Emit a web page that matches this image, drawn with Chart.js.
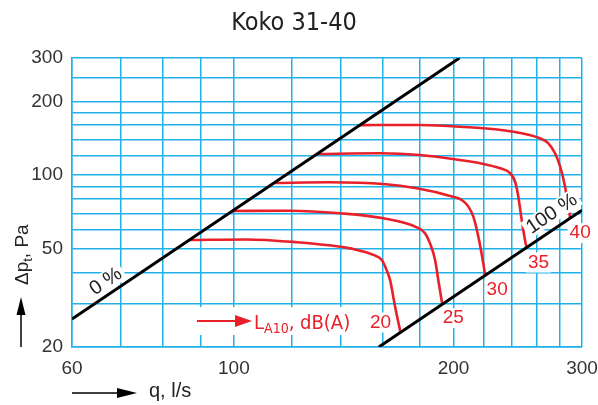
<!DOCTYPE html>
<html>
<head>
<meta charset="utf-8">
<script src="https://cdn.jsdelivr.net/npm/chart.js@4/dist/chart.umd.min.js"></script>
<style>
  html, body { margin: 0; padding: 0; background: #fff; }
  canvas { display: block; }
</style>
</head>
<body>
<canvas id="chart" width="598" height="405"></canvas>
<script>
// --- axis ticks (grid lines) and the ones that carry a label ---
const qTicks = [60, 70, 80, 90, 100, 120, 140, 160, 180, 200, 220, 240, 260, 280, 300];
const qLabels = [60, 100, 200, 300];
const pTicks = [20, 30, 40, 50, 60, 70, 80, 90, 100, 120, 140, 160, 180, 200, 250, 300];
const pLabels = [20, 50, 100, 200, 300];

// damper position limits (0 % and 100 %)
const zeroQ = [60, 203.8];
const zeroP = [26, 300];
const fullQ = [158, 300];
const fullP = [20, 72];

// sound level curves L_A10, dB(A)
const levels = ['20', '25', '30', '35', '40'];
const q20 = [87, 104, 122, 140, 144.3, 155.3, 159.5, 161.9, 163.7, 166.3, 169.2];
const p20 = [54.5, 54.8, 53.4, 51.2, 50.4, 47.4, 45.2, 41.2, 37.5, 29.2, 22.9];
const q25 = [99.5, 119.4, 139.8, 160.3, 178.1, 182.8, 185.7, 188.7, 190.6, 193];
const p25 = [71.5, 71.7, 70, 66.8, 61.4, 58.1, 52.8, 45.2, 37.5, 29.9];
const q30 = [113.5, 135.5, 160.3, 178.1, 197.8, 205.3, 209.6, 212.9, 216.3, 219.7, 221];
const p30 = [93, 93.6, 92.1, 88.5, 82.4, 79.3, 74.5, 67.8, 56.2, 43.8, 39.1];
const q35 = [130, 158.6, 180, 204.1, 217.5, 231.7, 239.1, 242.9, 245.4, 248, 250.6, 251.8];
const p35 = [122, 122.9, 120.9, 115.3, 111.9, 106.7, 101.9, 94.1, 81.8, 65.8, 54.5, 50.8];
const q40 = [149, 180, 204.1, 241.6, 262.7, 269.8, 275.5, 280, 284.4, 289];
const p40 = [160, 160.2, 157.6, 150.4, 141.4, 134.9, 122.9, 108.4, 89.8, 67];

const CYAN = '#1fb2e8';
const RED = '#e8202a';
const INK = '#222';
const REG = '"Liberation Sans", Arial, sans-serif';
const NARROW = '"DejaVu Sans Condensed", "Liberation Sans", sans-serif';

const toPts = (qs, ps) => qs.map((q, i) => ({ x: q, y: ps[i] }));

const curves = [[q20, p20], [q25, p25], [q30, p30], [q35, p35], [q40, p40]];

const datasets = [
    { data: toPts(zeroQ, zeroP), borderColor: '#000', borderWidth: 3, tension: 0 },
    { data: toPts(fullQ, fullP), borderColor: '#000', borderWidth: 3, tension: 0 },
    ...curves.map(([qs, ps]) => ({
        data: toPts(qs, ps),
        borderColor: RED,
        borderWidth: 2.6,
        cubicInterpolationMode: 'monotone'
    }))
];

// label offsets (px) from the end of each curve
const levelOffsets = [[-20, -10], [11, 14], [12, 14.5], [12, 15], [10, 15]];

// text with a white patch behind it
function patchText(ctx, text, x, y, color, pad) {
    const w = ctx.measureText(text).width;
    ctx.fillStyle = '#fff';
    ctx.fillRect(x - w / 2 - pad, y - 10, w + pad * 2, 20);
    ctx.fillStyle = color;
    ctx.fillText(text, x, y);
}

// label written along a line, t = fraction along it, d = distance above it
function lineLabel(ctx, xs, ys, qs, ps, t, d, text) {
    const x1 = xs.getPixelForValue(qs[0]), y1 = ys.getPixelForValue(ps[0]);
    const x2 = xs.getPixelForValue(qs[1]), y2 = ys.getPixelForValue(ps[1]);
    const ang = Math.atan2(y2 - y1, x2 - x1);
    ctx.save();
    ctx.translate(x1 + (x2 - x1) * t, y1 + (y2 - y1) * t);
    ctx.rotate(ang);
    ctx.font = `20px ${REG}`;
    ctx.textAlign = 'center';
    ctx.textBaseline = 'middle';
    const w = ctx.measureText(text).width;
    ctx.fillStyle = '#fff';
    ctx.fillRect(-w / 2 - 3, -d - 10, w + 6, 19);
    ctx.fillStyle = INK;
    ctx.fillText(text, 0, -d);
    ctx.restore();
}

function arrow(ctx, x1, y1, x2, y2, color, lw, headLen, headHalf) {
    const ang = Math.atan2(y2 - y1, x2 - x1);
    ctx.save();
    ctx.strokeStyle = color;
    ctx.fillStyle = color;
    ctx.lineWidth = lw;
    ctx.beginPath();
    ctx.moveTo(x1, y1);
    ctx.lineTo(x2 - Math.cos(ang) * headLen * 0.8, y2 - Math.sin(ang) * headLen * 0.8);
    ctx.stroke();
    ctx.translate(x2, y2);
    ctx.rotate(ang);
    ctx.beginPath();
    ctx.moveTo(0, 0);
    ctx.lineTo(-headLen, -headHalf);
    ctx.lineTo(-headLen, headHalf);
    ctx.closePath();
    ctx.fill();
    ctx.restore();
}

const annotations = {
    id: 'annotations',
    afterDatasetsDraw(chart) {
        const ctx = chart.ctx;
        const xs = chart.scales.x, ys = chart.scales.y;
        const area = chart.chartArea;

        ctx.save();
        // title
        ctx.font = `25px ${NARROW}`;
        ctx.fillStyle = INK;
        ctx.textAlign = 'center';
        ctx.textBaseline = 'middle';
        ctx.fillText('Koko 31-40', 294, 23);

        // curve level labels
        ctx.font = `19px ${REG}`;
        curves.forEach(([qs, ps], i) => {
            const n = qs.length - 1;
            const x = xs.getPixelForValue(qs[n]) + levelOffsets[i][0];
            const y = ys.getPixelForValue(ps[n]) + levelOffsets[i][1];
            patchText(ctx, levels[i], x, y, RED, 2);
        });

        // 0 % and 100 % along the black lines
        lineLabel(ctx, xs, ys, zeroQ, zeroP, 0.105, 12, '0 %');
        lineLabel(ctx, xs, ys, fullQ, fullP, 0.89, 14, '100 %');

        // legend inside the plot
        const lx = area.left + 125, ly = area.bottom - 26;
        ctx.fillStyle = '#fff';
        ctx.fillRect(lx - 3, ly - 14, 156, 28);
        arrow(ctx, lx, ly, lx + 55, ly, RED, 2, 17, 6);
        ctx.fillStyle = RED;
        ctx.textAlign = 'left';
        ctx.textBaseline = 'alphabetic';
        let tx = lx + 57;
        ctx.font = `20px ${NARROW}`;
        ctx.fillText('L', tx, ly + 8);
        tx += ctx.measureText('L').width;
        ctx.font = `14px ${NARROW}`;
        ctx.fillText('A10', tx, ly + 12);
        tx += ctx.measureText('A10').width;
        ctx.font = `20px ${NARROW}`;
        ctx.fillText(', dB(A)', tx, ly + 8);

        // x axis title with arrow
        arrow(ctx, area.left, 393, area.left + 65, 393, '#000', 1.5, 20, 5);
        ctx.fillStyle = INK;
        ctx.font = `20px ${REG}`;
        ctx.textBaseline = 'middle';
        ctx.fillText('q, l/s', 149, 391);

        // y axis title with arrow
        arrow(ctx, 21, area.bottom, 21, area.bottom - 50, '#000', 1.5, 18, 4.5);
        ctx.save();
        ctx.translate(28, 285);
        ctx.rotate(-Math.PI / 2);
        ctx.textBaseline = 'alphabetic';
        ctx.font = `19px ${REG}`;
        let yx = 0;
        ctx.fillText('\u0394p', yx, 0);
        yx += ctx.measureText('\u0394p').width;
        ctx.font = `13px ${REG}`;
        ctx.fillText('t', yx, 4);
        yx += ctx.measureText('t').width;
        ctx.font = `19px ${REG}`;
        ctx.fillText(', Pa', yx, 0);
        ctx.restore();

        ctx.restore();
    }
};

const tickFont = { family: REG, size: 19 };

new Chart(document.getElementById('chart'), {
    type: 'line',
    data: { datasets },
    options: {
        responsive: false,
        animation: false,
        devicePixelRatio: 1,
        parsing: false,
        elements: { point: { radius: 0 }, line: { fill: false } },
        layout: { padding: { left: 0, right: 16, top: 58, bottom: 0 } },
        plugins: { legend: { display: false }, tooltip: { enabled: false } },
        scales: {
            x: {
                type: 'logarithmic',
                min: 60,
                max: 300,
                afterBuildTicks: (s) => { s.ticks = qTicks.map(v => ({ value: v })); },
                afterFit: (s) => { s.height = 58; s.paddingLeft = 0; s.paddingRight = 0; },
                grid: { color: CYAN, lineWidth: 1.5, drawTicks: false },
                border: { color: CYAN, width: 1.5 },
                ticks: {
                    autoSkip: false,
                    maxRotation: 0,
                    padding: 10,
                    color: '#333',
                    font: tickFont,
                    callback: (v) => qLabels.includes(v) ? String(v) : ''
                }
            },
            y: {
                type: 'logarithmic',
                min: 20,
                max: 300,
                afterBuildTicks: (s) => { s.ticks = pTicks.map(v => ({ value: v })); },
                afterFit: (s) => { s.width = 72; s.paddingTop = 0; s.paddingBottom = 0; },
                grid: { color: CYAN, lineWidth: 1.5, drawTicks: false },
                border: { color: CYAN, width: 1.5 },
                ticks: {
                    autoSkip: false,
                    padding: 9,
                    color: '#333',
                    font: tickFont,
                    callback: (v) => pLabels.includes(v) ? String(v) : ''
                }
            }
        }
    },
    plugins: [annotations]
});
</script>
</body>
</html>
